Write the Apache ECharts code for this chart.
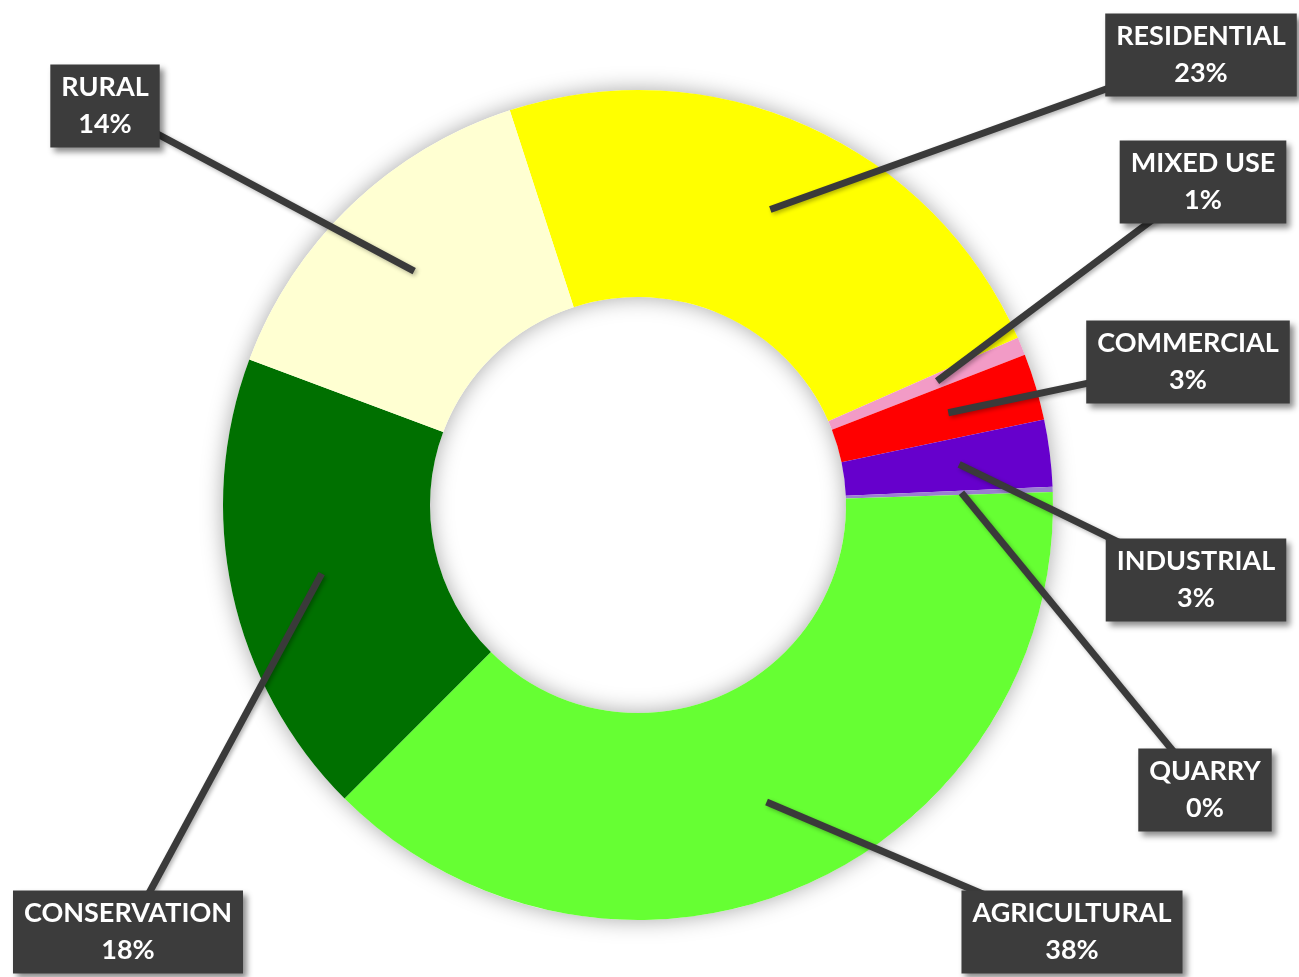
<!DOCTYPE html>
<html>
<head>
<meta charset="utf-8">
<script src="https://cdn.jsdelivr.net/npm/echarts@6/dist/echarts.min.js"></script>
<style>
html,body{margin:0;padding:0;background:#fff;}
#chart{width:1299px;height:977px;}
</style>
</head>
<body>
<div id="chart"></div>
<script>
// ---- data ----
const categories = ['RESIDENTIAL', 'MIXED USE', 'COMMERCIAL', 'INDUSTRIAL', 'QUARRY', 'AGRICULTURAL', 'CONSERVATION', 'RURAL'];
const shares = [23.4, 0.7, 2.6, 2.6, 0.2, 38.0, 18.2, 14.3];

// ---- styles / layout ----
const colors = ['#FFFF00', '#F29BC6', '#FF0000', '#6600CC', '#9A7FD0', '#66FF33', '#007000', '#FFFFD2'];
const labelAnchors = [[1201, 55], [1203, 182], [1188, 362], [1196, 580], [1205, 790], [1072, 932], [128, 932], [105, 106]];
const CX = 638, CY = 505, R_IN = 208, R_OUT = 415;

const chart = echarts.init(document.getElementById('chart'), null, {renderer: 'canvas'});

const baseSeries = {
  type: 'pie',
  center: [CX, CY],
  radius: [R_IN, R_OUT],
  startAngle: 108,
  clockwise: true,
  avoidLabelOverlap: false
};

const option = {
  backgroundColor: '#ffffff',
  animation: false,
  series: [
    {
      type: 'pie',
      silent: true,
      center: [CX, CY],
      radius: [R_IN, R_OUT],
      z: 1,
      label: {show: false},
      labelLine: {show: false},
      data: [{value: 1, itemStyle: {color: '#ffffff', shadowBlur: 22, shadowColor: 'rgba(0,0,0,0.35)'}}]
    },
    Object.assign({}, baseSeries, {
      z: 2,
      label: {show: false},
      labelLine: {show: false},
      data: categories.map((c, i) => ({name: c, value: shares[i], itemStyle: {color: colors[i]}}))
    }),
    Object.assign({}, baseSeries, {
      z: 3,
      silent: true,
      data: categories.map((c, i) => ({name: c, value: shares[i]})),
      itemStyle: {color: 'rgba(0,0,0,0)'},
      label: {
        show: true,
        position: 'outside',
        formatter: p => p.name + '\n' + Math.round(p.percent) + '%',
        fontFamily: 'Lato',
        fontWeight: 'bold',
        fontSize: 27,
        lineHeight: 37,
        color: '#ffffff',
        opacity: 1,
        align: 'center',
        backgroundColor: '#3c3c3c',
        padding: [5, 11, 4, 11],
        shadowBlur: 6,
        shadowOffsetX: 4,
        shadowOffsetY: 4,
        shadowColor: 'rgba(0,0,0,0.45)'
      },
      labelLine: {
        show: true,
        length: 20,
        length2: 20,
        lineStyle: {color: '#3a3a3a', width: 7, cap: 'butt', opacity: 1,
          shadowBlur: 4, shadowOffsetX: 2, shadowOffsetY: 2, shadowColor: 'rgba(0,0,0,0.3)'}
      },
      labelLayout: function (params) {
        const a = labelAnchors[params.dataIndex];
        const pts = params.labelLinePoints;
        let line;
        if (pts && pts.length) {
          const p0 = pts[0];
          const tip = [CX + (p0[0] - CX) * 0.78, CY + (p0[1] - CY) * 0.78];
          line = [tip, [(tip[0] + a[0]) / 2, (tip[1] + a[1]) / 2], [a[0], a[1]]];
        }
        return {
          x: a[0],
          y: a[1],
          align: 'center',
          verticalAlign: 'middle',
          labelLinePoints: line
        };
      }
    })
  ]
};
chart.setOption(option);
</script>
</body>
</html>
